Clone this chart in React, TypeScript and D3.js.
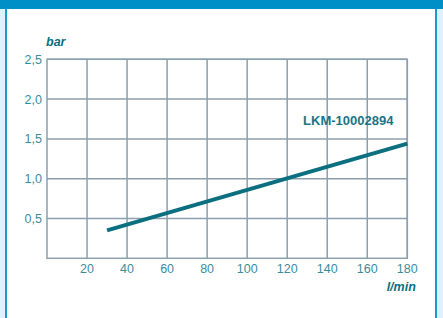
import * as d3 from 'd3';
import React, { useEffect, useRef } from 'react';

// Datos
const flowTicks = [20, 40, 60, 80, 100, 120, 140, 160, 180];
const pressureTicks = [0.5, 1.0, 1.5, 2.0, 2.5];
const flowValues = [30, 180];
const pressureValues = [0.35, 1.44];
const seriesName = 'LKM-10002894';

const W = 443;
const H = 318;

const App: React.FC = () => {
  const ref = useRef<SVGSVGElement | null>(null);

  useEffect(() => {
    if (!ref.current) return;
    const svg = d3.select(ref.current);
    svg.selectAll('*').remove();

    const font = "'Liberation Sans', Arial, sans-serif";
    const gridColor = '#8b9fac';
    const textColor = '#3a8c9c';
    const darkTeal = '#0b6f80';

    // Marco
    svg.append('rect').attr('x', 0).attr('y', 0).attr('width', W).attr('height', H).attr('fill', '#ffffff');
    svg.append('rect').attr('x', 0).attr('y', 0).attr('width', 5).attr('height', H).attr('fill', '#dff1fb');
    svg.append('rect').attr('x', 437).attr('y', 0).attr('width', 6).attr('height', H).attr('fill', '#dff1fb');
    svg.append('rect').attr('x', 5).attr('y', 0).attr('width', 2).attr('height', H).attr('fill', '#1b9bd5');
    svg.append('rect').attr('x', 435).attr('y', 0).attr('width', 2).attr('height', H).attr('fill', '#1b9bd5');
    svg.append('rect').attr('x', 0).attr('y', 0).attr('width', W).attr('height', 9).attr('fill', '#0090c8');

    const margin = { top: 59.3, right: 35.7, bottom: 59.7, left: 47 };
    const width = W - margin.left - margin.right;
    const height = H - margin.top - margin.bottom;

    const g = svg.append('g').attr('transform', `translate(${margin.left},${margin.top})`);

    const x = d3.scaleLinear().domain([0, 180]).range([0, width]);
    const y = d3.scaleLinear().domain([0, 2.5]).range([height, 0]);

    // Rejilla
    g.selectAll('.vgrid')
      .data(flowTicks)
      .enter()
      .append('line')
      .attr('x1', (d) => x(d))
      .attr('x2', (d) => x(d))
      .attr('y1', 0)
      .attr('y2', height)
      .attr('stroke', gridColor)
      .attr('stroke-width', 1.5);

    g.selectAll('.hgrid')
      .data(pressureTicks)
      .enter()
      .append('line')
      .attr('x1', 0)
      .attr('x2', width)
      .attr('y1', (d) => y(d))
      .attr('y2', (d) => y(d))
      .attr('stroke', gridColor)
      .attr('stroke-width', 1.5);

    g.append('rect')
      .attr('x', 0)
      .attr('y', 0)
      .attr('width', width)
      .attr('height', height)
      .attr('fill', 'none')
      .attr('stroke', gridColor)
      .attr('stroke-width', 1.5);

    // Etiquetas de ticks
    g.selectAll('.xlab')
      .data(flowTicks)
      .enter()
      .append('text')
      .attr('x', (d) => x(d))
      .attr('y', height + 14.5)
      .attr('text-anchor', 'middle')
      .attr('font-family', font)
      .attr('font-size', 12.5)
      .attr('fill', textColor)
      .text((d) => String(d));

    g.selectAll('.ylab')
      .data(pressureTicks)
      .enter()
      .append('text')
      .attr('x', -5)
      .attr('y', (d) => y(d) + 4.5)
      .attr('text-anchor', 'end')
      .attr('font-family', font)
      .attr('font-size', 12.5)
      .attr('fill', textColor)
      .text((d) => d.toFixed(1).replace('.', ','));

    // Títulos de ejes
    g.append('text')
      .attr('x', -1)
      .attr('y', -13.5)
      .attr('font-family', font)
      .attr('font-size', 12.5)
      .attr('font-weight', 'bold')
      .attr('font-style', 'italic')
      .attr('fill', darkTeal)
      .text('bar');

    g.append('text')
      .attr('x', width + 8.5)
      .attr('y', height + 33)
      .attr('text-anchor', 'end')
      .attr('font-family', font)
      .attr('font-size', 12.5)
      .attr('font-weight', 'bold')
      .attr('font-style', 'italic')
      .attr('fill', darkTeal)
      .text('l/min');

    // Línea
    const pts = flowValues.map((f, i) => ({ f, p: pressureValues[i] }));
    const line = d3
      .line<{ f: number; p: number }>()
      .x((d) => x(d.f))
      .y((d) => y(d.p));

    g.append('path')
      .datum(pts)
      .attr('fill', 'none')
      .attr('stroke', darkTeal)
      .attr('stroke-width', 4)
      .attr('d', line);

    g.append('text')
      .attr('x', x(150.5))
      .attr('y', y(1.67))
      .attr('text-anchor', 'middle')
      .attr('font-family', font)
      .attr('font-size', 13)
      .attr('font-weight', 'bold')
      .attr('fill', '#1a7585')
      .text(seriesName);
  }, []);

  return (
    <svg
      ref={ref}
      width={W}
      height={H}
      style={{ position: 'absolute', left: 0, top: 0, display: 'block' }}
    />
  );
};

export default App;
